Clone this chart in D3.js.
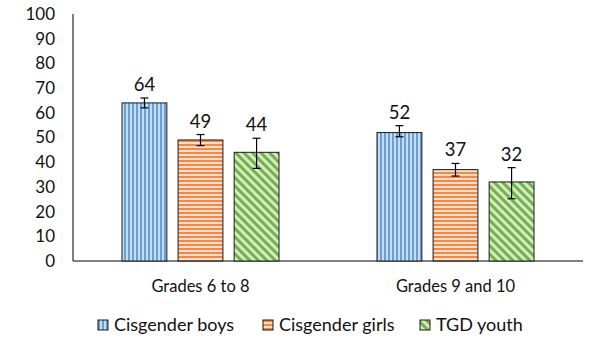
<!DOCTYPE html>
<head>
    <script src="https://d3js.org/d3.v7.min.js"></script>
    <style>
        body { margin: 0; background: #fff; }
        text { font-family: Lato, "Liberation Sans", sans-serif; fill: #111; }
    </style>
</head>

<body>
    <div id="chart"></div>
</body>

<script>

    const grades = ["Grades 6 to 8", "Grades 9 and 10"];
    const groups = ["Cisgender boys", "Cisgender girls", "TGD youth"];
    const values = [[64, 49, 44], [52, 37, 32]];
    const lower  = [[62, 46.7, 37.5], [50.3, 34.4, 25.2]];
    const upper  = [[66, 51.2, 49.7], [54.8, 39.5, 37.8]];
    const yTicks = d3.range(0, 101, 10);

    const width = 613, height = 349;
    const margin = {top: 14, right: 30, bottom: 88, left: 73};

    const svg = d3.select("#chart").append("svg")
        .attr("width", width)
        .attr("height", height);

    // fill patterns
    const defs = svg.append("defs");

    const pBlue = defs.append("pattern").attr("id", "p0")
        .attr("patternUnits", "userSpaceOnUse").attr("width", 4).attr("height", 4);
    pBlue.append("rect").attr("width", 4).attr("height", 4).attr("fill", "#c5dcf2");
    pBlue.append("rect").attr("width", 2).attr("height", 4).attr("fill", "#6a9fd6");

    const pOrange = defs.append("pattern").attr("id", "p1")
        .attr("patternUnits", "userSpaceOnUse").attr("width", 4).attr("height", 4);
    pOrange.append("rect").attr("width", 4).attr("height", 4).attr("fill", "#fbdcc6");
    pOrange.append("rect").attr("width", 4).attr("height", 2).attr("fill", "#ee8a4a");

    const pGreen = defs.append("pattern").attr("id", "p2")
        .attr("patternUnits", "userSpaceOnUse").attr("width", 6).attr("height", 6)
        .attr("patternTransform", "rotate(45)");
    pGreen.append("rect").attr("width", 6).attr("height", 6).attr("fill", "#d3ecc2");
    pGreen.append("rect").attr("width", 6).attr("height", 3).attr("fill", "#76b04e");

    const x0 = d3.scaleBand()
        .domain(grades)
        .range([margin.left, width - margin.right]);

    const x1 = d3.scaleBand()
        .domain(groups)
        .range([0, 157])
        .paddingInner(0.2);

    const y = d3.scaleLinear()
        .domain([0, 100])
        .range([height - margin.bottom, margin.top]);

    // y axis
    svg.append("g")
        .attr("transform", `translate(${margin.left},0)`)
        .call(d3.axisLeft(y).tickValues(yTicks).tickSize(0).tickPadding(18))
        .call(g => g.selectAll("text").style("font-size", "17px"))
        .call(g => g.select(".domain").attr("d", `M0,${y(100)}V${y(0)}`).attr("stroke", "#000"));

    // x axis
    svg.append("line")
        .attr("x1", margin.left).attr("x2", width - margin.right)
        .attr("y1", y(0)).attr("y2", y(0))
        .attr("stroke", "#000");

    svg.selectAll("text.cat").data(grades).enter()
        .append("text").attr("class", "cat")
        .attr("x", d => x0(d) + x0.bandwidth() / 2)
        .attr("y", y(0) + 31)
        .attr("text-anchor", "middle")
        .style("font-size", "16.5px")
        .text(d => d);

    const rows = [];
    grades.forEach((g, i) => groups.forEach((s, j) => {
        rows.push({grade: g, group: s, j: j, v: values[i][j], lo: lower[i][j], hi: upper[i][j]});
    }));

    const gx = d => x0(d.grade) + (x0.bandwidth() - x1.range()[1]) / 2 + x1(d.group);

    svg.selectAll("rect.bar").data(rows).enter()
        .append("rect").attr("class", "bar")
        .attr("x", gx)
        .attr("y", d => y(d.v))
        .attr("width", x1.bandwidth())
        .attr("height", d => y(0) - y(d.v))
        .attr("fill", d => `url(#p${d.j})`)
        .attr("stroke", "#1a1a1a")
        .attr("stroke-width", 1);

    // error bars
    const eb = svg.selectAll("g.err").data(rows).enter()
        .append("g").attr("class", "err")
        .attr("stroke", "#000").attr("stroke-width", 1.2);
    const cx = d => gx(d) + x1.bandwidth() / 2;
    eb.append("line").attr("x1", cx).attr("x2", cx).attr("y1", d => y(d.lo)).attr("y2", d => y(d.hi));
    eb.append("line").attr("x1", d => cx(d) - 4).attr("x2", d => cx(d) + 4).attr("y1", d => y(d.lo)).attr("y2", d => y(d.lo));
    eb.append("line").attr("x1", d => cx(d) - 4).attr("x2", d => cx(d) + 4).attr("y1", d => y(d.hi)).attr("y2", d => y(d.hi));

    svg.selectAll("text.val").data(rows).enter()
        .append("text").attr("class", "val")
        .attr("x", cx)
        .attr("y", d => y(d.hi) - 7)
        .attr("text-anchor", "middle")
        .style("font-size", "18.5px")
        .text(d => d.v);

    // legend
    const legX = [98, 263, 420];
    const leg = svg.selectAll("g.leg").data(groups).enter()
        .append("g").attr("class", "leg")
        .attr("transform", (d, i) => `translate(${legX[i]},320)`);
    leg.append("rect")
        .attr("width", 10).attr("height", 10)
        .attr("fill", (d, i) => `url(#p${i})`)
        .attr("stroke", "#1a1a1a");
    leg.append("text")
        .attr("x", 16).attr("y", 11)
        .style("font-size", "18px")
        .text(d => d);

</script>
